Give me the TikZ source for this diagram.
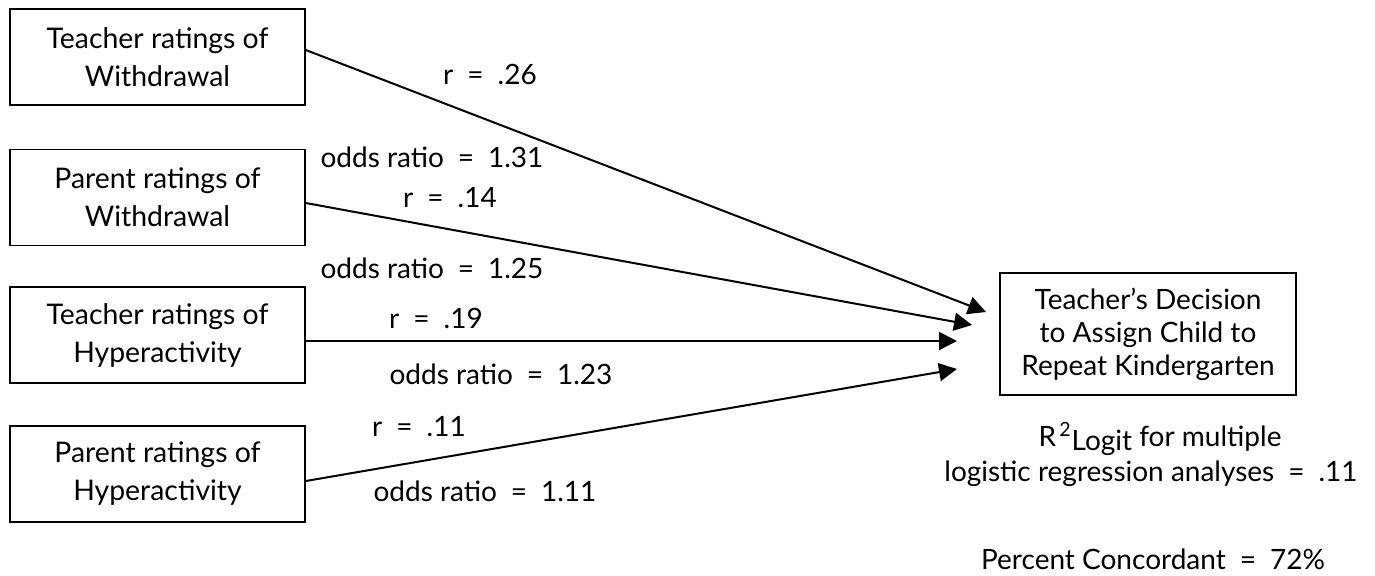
\documentclass[tikz,border=0pt]{standalone}
\usepackage{fontspec}
\setmainfont{Lato}
\usetikzlibrary{arrows.meta}
\newcommand{\eqsp}{\hspace{0.5em}=\hspace{0.5em}}
\begin{document}
\begin{tikzpicture}[x=0.5pt,y=-0.5pt,
  every node/.style={font=\fontsize{14}{19}\selectfont, inner sep=0pt},
  src/.style={draw, line width=0.8pt, minimum width=147.5pt, minimum height=48pt, align=center, font=\fontsize{14.2}{19}\selectfont},
  dst/.style={draw, line width=0.8pt, minimum width=148pt, minimum height=61pt, align=center, font=\fontsize{14}{16.5}\selectfont},
  arr/.style={line width=1pt, -{Triangle[length=9pt,width=9pt]}},
  lbl/.style={anchor=center}]
\useasboundingbox (0,0) rectangle (1375,575);
\node[src] (tw) at (157.5,57) {Teacher ratings of\\Withdrawal};
\node[src] (pw) at (157.5,197.5) {Parent ratings of\\Withdrawal};
\node[src] (th) at (157.5,335) {Teacher ratings of\\Hyperactivity};
\node[src] (ph) at (157.5,474) {Parent ratings of\\Hyperactivity};
\node[dst] (dec) at (1148,334) {Teacher’s Decision\\to Assign Child to\\Repeat Kindergarten};
\coordinate (t1) at (986,312);
\coordinate (t2) at (972,325);
\coordinate (t3) at (957,341);
\coordinate (t4) at (957,369);
\draw[arr] (tw.east |- 0,50) -- (t1);
\draw[arr] (pw.east |- 0,203) -- (t2);
\draw[arr] (th.east |- 0,341) -- (t3);
\draw[arr] (ph.east |- 0,481) -- (t4);
\node[lbl] (l1) at (490,74) {r\eqsp.26};
\node[lbl] (l2) at (432,157) {odds ratio\eqsp1.31};
\node[lbl] (l3) at (450,198) {r\eqsp.14};
\node[lbl] (l4) at (432,268) {odds ratio\eqsp1.25};
\node[lbl] (l5) at (436,318) {r\eqsp.19};
\node[lbl] (l6) at (501,374) {odds ratio\eqsp1.23};
\node[lbl] (l7) at (419,427) {r\eqsp.11};
\node[lbl] (l8) at (485,491) {odds ratio\eqsp1.11};
\node[lbl] (rl) at (1160,439) {R\textsuperscript{\,2}\raisebox{-0.3ex}{Logit} for multiple};
\node[lbl] (rl2) at (1151,474) {logistic regression analyses\eqsp.11};
\node[lbl] (pc) at (1153,559) {Percent Concordant\eqsp72\%};
\end{tikzpicture}
\end{document}
